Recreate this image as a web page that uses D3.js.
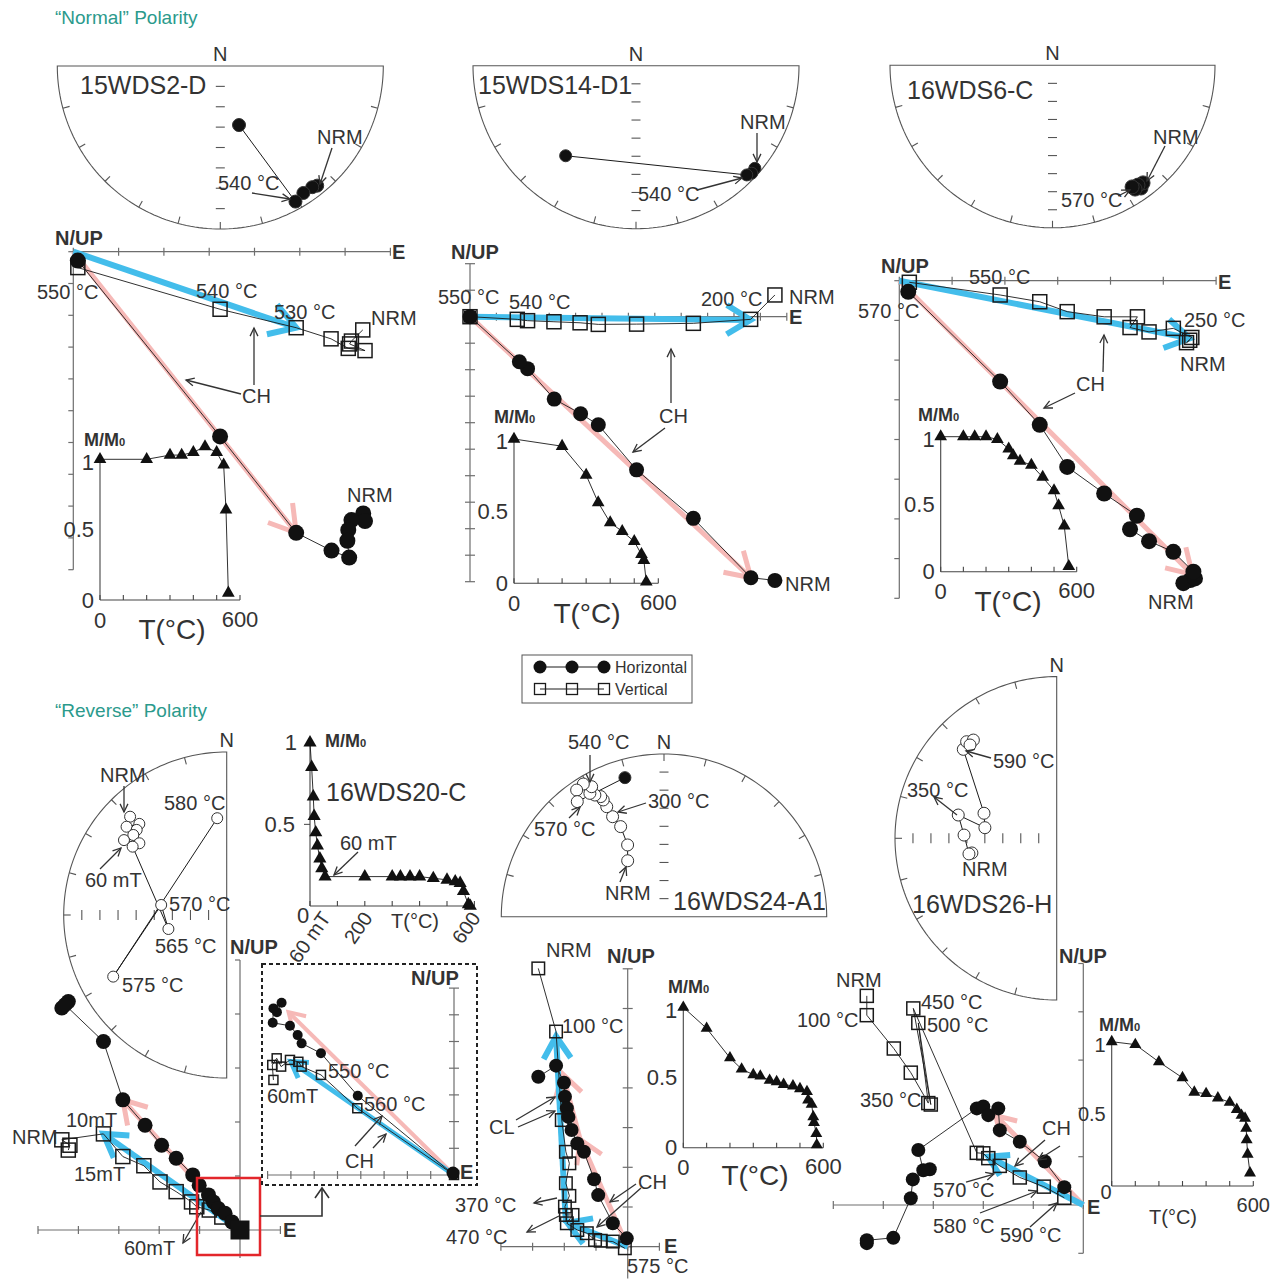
<!DOCTYPE html>
<html><head><meta charset="utf-8">
<script src="https://cdn.jsdelivr.net/npm/d3@7"></script>
<style>
body{margin:0;background:#fff}
text{font-family:"Liberation Sans",Arial,Helvetica,sans-serif;fill:#333}
</style>
</head><body><script>
// ---------------- data ----------------
// Stereonet directions: [declination, inclination]; negative inclination = upper hemisphere (open symbol)
const stereoA = [[141,5],[142.8,6],[146.8,6.2],[151,4.4],[162.4,55.8]];
const stereoB = [[130.8,3.3],[132.9,2.8],[134.6,4.1],[218,26.9]];
const stereoC = [[144.2,6.2],[142.4,7.8],[144.5,8.5],[146.3,7.6],[146.8,9.5]];
const stereoD = [[315.5,-13.9],[316.2,-20.3],[311.4,-16.3],[313.4,-21.6],[310.6,-22.1],[306.1,-19.8],[309.4,-27.6],[306,-25.8],[256.5,-56.9],[278.7,-53.4],[241.5,-18.7],[354.4,-36.3]];
const stereoE = [[327,-53.1],[333.1,-45.5],[334.3,-34.7],[332.8,-27.8],[332.5,-21.4],[332.5,-17.2],[332.2,-14.9],[330.4,-12.6],[329,-10.4],[330.9,-7.7],[328.7,-4.1],[325.4,-4.9],[323,-10.3],[344.3,10.1]];
const stereoF = [[260.2,-42.1],[259.9,-40.4],[272,-38.4],[283.3,-33.7],[278.4,-49.6],[289,-47.2],[313.6,-18.2],[317,-16.5],[319.7,-18.3],[317.1,-19.1]];

// Orthogonal vector endpoints [E, N/UP] in axis-tick units, NRM first
const horizA = [[6.40,-8.23],[6.44,-8.47],[6.14,-8.44],[6.07,-8.75],[6.05,-9.09],[6.09,-9.62],[5.70,-9.40],[4.92,-8.84],[3.24,-5.81],[0.10,-0.28]];
const vertA  = [[6.39,-2.46],[6.14,-2.81],[6.10,-2.90],[6.44,-3.11],[6.07,-3.04],[5.69,-2.74],[4.92,-2.39],[3.24,-1.81],[0.10,-0.50]];
const pinkFitsA = [[[0,0],[4.92,-8.84]]];
const blueFitsA = [[[0,0],[4.92,-2.39]]];

const horizB = [[11.55,-9.95],[10.64,-9.85],[8.46,-7.61],[6.31,-5.78],[4.86,-4.08],[4.19,-3.66],[3.19,-3.11],[2.18,-1.96],[1.87,-1.70],[0,0]];
const vertB  = [[11.55,0.82],[10.63,-0.10],[8.46,-0.25],[6.31,-0.28],[4.86,-0.29],[4.17,-0.23],[3.18,-0.19],[2.18,-0.15],[1.79,-0.10],[0,0]];
const pinkFitsB = [[[0,0],[10.64,-9.85]]];
const blueFitsB = [[[0,0],[10.63,-0.12]]];

const horizC = [[5.51,-7.54],[5.38,-7.62],[5.60,-7.50],[5.57,-7.33],[5.19,-6.83],[4.73,-6.56],[4.37,-6.26],[4.50,-5.92],[3.88,-5.36],[3.18,-4.69],[2.66,-3.63],[1.91,-2.54],[0.17,-0.28]];
const vertC  = [[5.50,-1.50],[5.44,-1.56],[5.54,-1.43],[5.19,-1.20],[4.73,-1.29],[4.37,-1.18],[4.51,-0.91],[3.88,-0.91],[3.18,-0.78],[2.66,-0.53],[1.91,-0.36],[0.19,-0.04]];
const pinkFitsC = [[[0,0],[5.55,-7.40]]];
const blueFitsC = [[[0,0],[5.50,-1.45]]];

const horizD = [[-4.41,4.11],[-4.25,4.23],[-4.33,4.17],[-3.38,3.49],[-2.90,2.41],[-2.35,1.94],[-1.94,1.57],[-1.58,1.33],[-1.17,1.02],[-1.01,0.83],[-0.78,0.65],[-0.66,0.52],[-0.54,0.40],[-0.37,0.31],[-0.20,0.15],[0,0]];
const vertD  = [[-4.25,1.48],[-4.21,1.57],[-4.41,1.67],[-3.38,1.78],[-2.90,1.36],[-2.38,1.19],[-1.98,0.89],[-1.58,0.71],[-1.20,0.52],[-1.07,0.43],[-0.76,0.37],[-0.45,0.24],[0,0]];
const pinkFitsD = [[[0,0],[-2.90,2.41]]];
const blueFitsD = [[[0,0],[-3.38,1.78]]];

// enlarged view of the high-temperature part of 16WDS20-C
const horizDz = [[-7.60,6.10],[-7.40,6.45],[-7.75,6.24],[-7.78,5.70],[-7.04,5.59],[-6.71,5.24],[-6.54,4.93],[-5.71,4.56],[-4.13,2.97],[0,0]];
const vertDz  = [[-7.75,3.56],[-7.80,4.12],[-7.61,4.37],[-7.42,4.06],[-7.04,4.31],[-6.68,4.24],[-6.54,4.06],[-5.71,3.75],[-4.15,2.50],[0,0]];
const pinkFitsDz = [[[0,0],[-7.10,6.10]]];
const blueFitsDz = [[[0,0],[-7.00,4.25]]];

const horizE = [[-2.82,4.28],[-2.26,4.56],[-2.01,4.13],[-1.98,3.78],[-1.92,3.49],[-1.87,3.27],[-1.77,2.94],[-1.59,2.60],[-1.38,2.39],[-1.06,1.70],[-0.93,1.30],[-0.47,0.59],[-0.03,0.21]];
const vertE  = [[-2.82,7.01],[-2.26,5.42],[-2.08,3.19],[-1.95,2.39],[-1.84,2.10],[-1.95,1.60],[-1.84,1.28],[-1.98,1.01],[-1.95,0.80],[-1.74,0.80],[-1.92,0.59],[-1.59,0.42],[-1.29,0.34],[-1.03,0.17],[-0.85,0.15],[-0.47,0.13],[-0.09,-0.04]];
const pinkFitsE = [[[0,0],[-1.50,2.70]],[[-1.50,2.70],[-2.05,4.35]]];
const blueFitsE = [[[0,0],[-1.90,0.60]],[[-1.95,0.60],[-2.26,5.30]]];

const horizF = [[-4.33,-0.79],[-4.33,-0.73],[-3.80,-0.68],[-3.45,0.14],[-3.41,0.53],[-3.07,0.74],[-3.20,0.72],[-3.30,1.14],[-2.13,2.00],[-2.00,2.04],[-1.90,1.86],[-1.70,2.00],[-1.67,1.55],[-1.27,1.31],[-0.77,0.90],[-0.38,0.37]];
const vertF  = [[-4.33,4.33],[-4.33,3.93],[-3.79,3.24],[-3.45,2.74],[-3.10,2.11],[-3.30,3.77],[-3.05,2.08],[-3.40,4.07],[-2.13,1.08],[-2.00,1.07],[-1.90,0.97],[-1.67,0.81],[-1.27,0.57],[-0.79,0.38],[-0.38,0.15]];
const pinkFitsF = [[[0,0],[-1.75,1.85]]];
const blueFitsF = [[[0,0],[-1.90,1.00]]];

// Normalised intensity decay: temperature (°C) and M/M0
const demagTA = [0,200,300,350,400,450,500,530,540,550];
const demagMA = [1.0,1.0,1.03,1.03,1.05,1.09,1.05,0.96,0.64,0.05];
const demagTB = [0,200,300,350,400,450,500,530,540,550];
const demagMB = [1.0,0.95,0.75,0.56,0.42,0.36,0.29,0.20,0.16,0.01];
const demagTC = [0,100,150,200,250,300,320,350,400,450,500,520,545,565];
const demagMC = [1.0,1.0,1.0,1.0,0.98,0.91,0.86,0.82,0.79,0.70,0.60,0.49,0.34,0.04];
// 16WDS20-C: AF steps up to 60 mT occupy the first stretch of the axis, then thermal steps
const demagTD = [0,6,12,15,21,27,36,43,55,200,300,330,365,400,450,500,530,548,560,578,585];
const demagMD = [1.0,0.85,0.67,0.55,0.45,0.37,0.29,0.23,0.18,0.18,0.18,0.18,0.18,0.18,0.17,0.16,0.15,0.14,0.09,0.01,0.0];
const demagTE = [0,100,200,250,300,330,370,400,430,470,500,530,535,550,557,560,570,572];
const demagME = [1.0,0.85,0.64,0.56,0.52,0.51,0.48,0.47,0.45,0.44,0.42,0.40,0.34,0.31,0.22,0.18,0.10,0.02];
const demagTF = [0,100,200,300,350,400,450,500,530,550,565,570,572,576,586];
const demagMF = [1.0,0.98,0.86,0.75,0.65,0.64,0.61,0.58,0.53,0.49,0.47,0.40,0.32,0.22,0.09];

// ---------------- drawing ----------------
const INK = '#1a1a1a', AXIS = '#6e6e6e', PINK = '#f6b9b7', BLUE = '#43bdeb', TEAL = '#2b9a8c';
const svg = d3.select('body').append('svg').attr('width', 1270).attr('height', 1284).style('display', 'block');

function label(x, y, s, o = {}) {
  const t = svg.append('text').attr('x', x).attr('y', y)
    .attr('dominant-baseline', 'central')
    .attr('text-anchor', o.anchor || 'start')
    .attr('font-size', o.size || 20)
    .text(s);
  if (o.bold) t.attr('font-weight', 'bold');
  if (o.fill) t.style('fill', o.fill);
  if (o.rotate) t.attr('transform', `rotate(${o.rotate},${x},${y})`);
  return t;
}
function mLabel(x, y, size) {
  const t = label(x, y, 'M/M', { size, bold: true });
  t.append('tspan').attr('font-size', size * 0.62).attr('dy', size * 0.12).text('0');
}
function pointer(x1, y1, x2, y2) {
  const g = svg.append('g').attr('stroke', '#333').attr('stroke-width', 1.3).attr('fill', 'none');
  g.append('line').attr('x1', x1).attr('y1', y1).attr('x2', x2).attr('y2', y2);
  const a = Math.atan2(y2 - y1, x2 - x1), h = 9, w = 0.45;
  g.append('path').attr('d', `M${x2 - h * Math.cos(a - w)},${y2 - h * Math.sin(a - w)}L${x2},${y2}L${x2 - h * Math.cos(a + w)},${y2 - h * Math.sin(a + w)}`);
}
function chevron(g, p1, p2, color, w, arm) {
  const a = Math.atan2(p1[1] - p2[1], p1[0] - p2[0]), s = 0.55;
  g.append('path')
    .attr('d', `M${p2[0] + arm * Math.cos(a + s)},${p2[1] + arm * Math.sin(a + s)}L${p2[0]},${p2[1]}L${p2[0] + arm * Math.cos(a - s)},${p2[1] + arm * Math.sin(a - s)}`)
    .attr('fill', 'none').attr('stroke', color).attr('stroke-width', w);
}

// half stereonet, radial distance linear in inclination
function stereo(L, pts) {
  const r = d3.scaleLinear().domain([90, 0]).range([0, L.R]);
  const P = (az, rad) => [L.cx + rad * Math.sin(az * Math.PI / 180), L.cy - rad * Math.cos(az * Math.PI / 180)];
  const start = { S: 90, N: -90, W: 180 }[L.half];
  const g = svg.append('g');
  const frame = g.append('g').attr('fill', 'none').attr('stroke', '#555').attr('stroke-width', 1.1);
  frame.append('path').attr('d', d3.line()(d3.range(0, 180.01, 1.5).map(k => P(start + k, L.R))) + 'Z');
  d3.range(15, 180, 15).forEach(k => {
    const a = P(start + k, L.R), b = P(start + k, L.R - 7);
    frame.append('line').attr('x1', a[0]).attr('y1', a[1]).attr('x2', b[0]).attr('y2', b[1]);
  });
  const mid = start + 90;
  d3.range(1, L.n).forEach(k => {
    const c = P(mid, L.R * k / L.n), a = (mid + 90) * Math.PI / 180, h = L.dash || 4.5;
    frame.append('line')
      .attr('x1', c[0] - h * Math.sin(a)).attr('y1', c[1] + h * Math.cos(a))
      .attr('x2', c[0] + h * Math.sin(a)).attr('y2', c[1] - h * Math.cos(a));
  });
  const xy = pts.map(d => P(d[0], r(Math.abs(d[1]))));
  g.append('path').attr('d', d3.line()(xy)).attr('fill', 'none').attr('stroke', INK).attr('stroke-width', 1);
  g.selectAll(null).data(pts).join('circle')
    .attr('cx', (d, i) => xy[i][0]).attr('cy', (d, i) => xy[i][1]).attr('r', L.pr)
    .attr('fill', d => d[1] >= 0 ? '#111' : '#fff').attr('stroke', '#333').attr('stroke-width', 1);
  const n = P(0, L.half === 'S' ? 0 : L.R);
  label(n[0], n[1] - 12, 'N', { anchor: 'middle', size: 20 });
}

// orthogonal (Zijderveld) projection
function zijder(L, horiz, vert, pinkFits, blueFits) {
  const x = d3.scaleLinear().domain([0, 1]).range([L.ox, L.ox + L.sx]);
  const y = d3.scaleLinear().domain([0, 1]).range([L.oy, L.oy - L.sy]);
  const g = svg.append('g');
  const ax = g.append('g').attr('stroke', AXIS).attr('stroke-width', 1.2);
  ax.append('line').attr('x1', x(L.xr[0])).attr('x2', x(L.xr[1])).attr('y1', y(0)).attr('y2', y(0));
  d3.range(L.xr[0], L.xr[1] + 1e-6, 1).forEach(t =>
    ax.append('line').attr('x1', x(t)).attr('x2', x(t)).attr('y1', y(0) - 4).attr('y2', y(0) + 4));
  const ya = L.yAxis || L.yr;
  ax.append('line').attr('x1', x(0)).attr('x2', x(0)).attr('y1', y(ya[0])).attr('y2', y(ya[1]));
  d3.range(L.yr[0], L.yr[1] + 1e-6, 1).forEach(t =>
    ax.append('line').attr('y1', y(t)).attr('y2', y(t))
      .attr('x1', x(0) - 5).attr('x2', x(0) + (L.vTick === 'left' ? 0 : 5)));
  const fit = (segs, color, w) => segs.forEach(s => {
    const p1 = [x(s[0][0]), y(s[0][1])], p2 = [x(s[1][0]), y(s[1][1])];
    g.append('line').attr('x1', p1[0]).attr('y1', p1[1]).attr('x2', p2[0]).attr('y2', p2[1])
      .attr('stroke', color).attr('stroke-width', w);
    chevron(g, p1, p2, color, w, L.arm);
  });
  fit(pinkFits, PINK, L.fw);
  fit(blueFits, BLUE, L.fw + 1);
  const line = d3.line().x(d => x(d[0])).y(d => y(d[1]));
  g.append('path').attr('d', line(horiz)).attr('fill', 'none').attr('stroke', INK).attr('stroke-width', 0.9);
  g.append('path').attr('d', line(vert)).attr('fill', 'none').attr('stroke', INK).attr('stroke-width', 0.9);
  g.selectAll(null).data(vert).join('rect')
    .attr('x', d => x(d[0]) - L.sq / 2).attr('y', d => y(d[1]) - L.sq / 2)
    .attr('width', L.sq).attr('height', L.sq)
    .attr('fill', 'none').attr('stroke', INK).attr('stroke-width', 1.5);
  g.selectAll(null).data(horiz).join('circle')
    .attr('cx', d => x(d[0])).attr('cy', d => y(d[1])).attr('r', L.pr).attr('fill', '#111');
  if (L.originSq) g.append('rect').attr('x', x(0) - L.originSq / 2).attr('y', y(0) - L.originSq / 2)
    .attr('width', L.originSq).attr('height', L.originSq).attr('fill', '#111');
  return { x, y };
}

// intensity decay curve
function demag(L, T, M) {
  const x = d3.scaleLinear().domain([0, 600]).range([L.ox, L.ox + L.w]);
  const y = d3.scaleLinear().domain([0, 1]).range([L.oy, L.oy - L.h]);
  const g = svg.append('g');
  const ax = g.append('g').attr('stroke', '#444').attr('stroke-width', 1.1);
  ax.append('line').attr('x1', x(0)).attr('x2', x(600)).attr('y1', y(0)).attr('y2', y(0));
  d3.range(0, 601, 100).forEach(t => ax.append('line').attr('x1', x(t)).attr('x2', x(t)).attr('y1', y(0)).attr('y2', y(0) - 5));
  ax.append('line').attr('x1', x(0)).attr('x2', x(0)).attr('y1', y(0)).attr('y2', y(1));
  const pts = T.map((t, i) => [t, M[i]]);
  g.append('path').attr('d', d3.line().x(d => x(d[0])).y(d => y(d[1]))(pts))
    .attr('fill', 'none').attr('stroke', INK).attr('stroke-width', 0.9);
  const tri = d3.symbol(d3.symbolTriangle, L.tri || 70);
  g.selectAll(null).data(pts).join('path').attr('d', tri)
    .attr('transform', d => `translate(${x(d[0])},${y(d[1])})`).attr('fill', '#111');
  const fs = L.fs || 22;
  if (!L.custom) {
    label(x(0) - 6, y(1) + (L.oneDy || 0), '1', { anchor: 'end', size: fs });
    label(x(0) - 6, y(0.5), '0.5', { anchor: 'end', size: fs });
    if (L.singleZero) label(L.singleZero[0], L.singleZero[1], '0', { anchor: 'middle', size: fs });
    else {
      label(x(0) - 6, y(0), '0', { anchor: 'end', size: fs });
      label(x(0), y(0) + 20, '0', { anchor: 'middle', size: fs });
    }
    label(x(600), y(0) + 19, '600', { anchor: 'middle', size: fs });
    label(L.tLab[0], L.tLab[1], 'T(°C)', { anchor: 'middle', size: L.tSize || 28 });
    mLabel(L.mLab[0], L.mLab[1], 18);
  }
  return { x, y };
}

// ---------------- layout ----------------
label(55, 17, '\u201cNormal\u201d Polarity', { size: 19, fill: TEAL });
label(55, 710, '\u201cReverse\u201d Polarity', { size: 19, fill: TEAL });

// ---- 15WDS2-D ----
stereo({ cx: 220.3, cy: 66, R: 163, half: 'S', n: 8, pr: 6.5 }, stereoA);
label(80, 85, '15WDS2-D', { size: 25 });
label(317, 137, 'NRM'); pointer(332, 148, 320, 184);
label(218, 183, '540 °C'); pointer(252, 193, 290, 199);
zijder({ ox: 73.3, oy: 251.7, sx: 45.3, sy: 31.8, xr: [0, 7], yr: [-10, 0], vTick: 'left', pr: 8, sq: 14, fw: 5, arm: 30 },
  horizA, vertA, pinkFitsA, blueFitsA);
label(55, 238, 'N/UP', { bold: true }); label(392, 252, 'E', { bold: true });
label(37, 292, '550 °C'); label(196, 291, '540 °C'); label(274, 312, '530 °C');
label(371, 318, 'NRM'); label(347, 495, 'NRM'); label(242, 396, 'CH');
pointer(241, 394, 186, 380); pointer(254, 385, 254, 328);
demag({ ox: 100, oy: 600, w: 140, h: 140.7, oneDy: 3, tLab: [172, 629], mLab: [84, 440] }, demagTA, demagMA);

// ---- 15WDS14-D1 ----
stereo({ cx: 636, cy: 65.7, R: 163, half: 'S', n: 9, pr: 6 }, stereoB);
label(478, 85, '15WDS14-D1', { size: 25 });
label(740, 122, 'NRM'); pointer(757, 133, 757, 162);
label(638, 194, '540 °C'); pointer(697, 190, 742, 178);
zijder({ ox: 470, oy: 316.7, sx: 26.4, sy: 26.5, xr: [0, 12], yr: [-10, 2], vTick: 'both', pr: 7.5, sq: 14, fw: 5, arm: 28, originSq: 12 },
  horizB, vertB, pinkFitsB, blueFitsB);
label(451, 252, 'N/UP', { bold: true }); label(789, 317, 'E', { bold: true });
label(438, 297, '550 °C'); label(509, 302, '540 °C'); label(701, 299, '200 °C');
label(789, 297, 'NRM'); label(785, 584, 'NRM'); label(659, 416, 'CH');
pointer(671, 403, 671, 349); pointer(665, 428, 633, 452);
demag({ ox: 514, oy: 583.3, w: 144.3, h: 144.3, oneDy: 2, tLab: [587, 613], mLab: [494, 417] }, demagTB, demagMB);

// ---- 16WDS6-C ----
stereo({ cx: 1052.5, cy: 65.3, R: 162.5, half: 'S', n: 9, pr: 7 }, stereoC);
label(907, 90, '16WDS6-C', { size: 25 });
label(1153, 137, 'NRM'); pointer(1165, 146, 1147, 181);
label(1061, 200, '570 °C'); pointer(1118, 196, 1130, 190);
zijder({ ox: 899.3, oy: 280.7, sx: 52.8, sy: 39.7, xr: [0, 6], yr: [-8, 0], vTick: 'left', pr: 8, sq: 14, fw: 5, arm: 28 },
  horizC, vertC, pinkFitsC, blueFitsC);
label(881, 266, 'N/UP', { bold: true }); label(1218, 282, 'E', { bold: true });
label(969, 277, '550 °C'); label(858, 311, '570 °C'); label(1184, 320, '250 °C');
label(1180, 364, 'NRM'); label(1148, 602, 'NRM'); label(1076, 384, 'CH');
pointer(1103, 372, 1104, 335); pointer(1075, 393, 1044, 408);
demag({ ox: 940.7, oy: 571.7, w: 136, h: 135, oneDy: 3, tLab: [1008, 601], mLab: [918, 415] }, demagTC, demagMC);

// ---- legend ----
svg.append('rect').attr('x', 522).attr('y', 655).attr('width', 170).attr('height', 48)
  .attr('fill', 'none').attr('stroke', '#555').attr('stroke-width', 1);
const legX = [540, 572, 604];
svg.append('line').attr('x1', 540).attr('x2', 604).attr('y1', 667).attr('y2', 667).attr('stroke', INK);
svg.append('line').attr('x1', 540).attr('x2', 604).attr('y1', 689).attr('y2', 689).attr('stroke', INK);
legX.forEach(v => {
  svg.append('circle').attr('cx', v).attr('cy', 667).attr('r', 6.5).attr('fill', '#111');
  svg.append('rect').attr('x', v - 5.5).attr('y', 683.5).attr('width', 11).attr('height', 11)
    .attr('fill', 'none').attr('stroke', INK).attr('stroke-width', 1.3);
});
label(615, 667, 'Horizontal', { size: 16 });
label(615, 689, 'Vertical', { size: 16 });

// ---- 16WDS20-C ----
stereo({ cx: 226.7, cy: 915, R: 163, half: 'W', n: 9, pr: 5.5, dash: 5 }, stereoD);
label(100, 775, 'NRM'); pointer(124, 786, 124, 812);
label(85, 880, '60 mT'); pointer(100, 869, 121, 848);
label(164, 803, '580 °C'); label(169, 904, '570 °C'); label(155, 946, '565 °C'); label(122, 985, '575 °C');
const dD = demag({ ox: 310, oy: 906, w: 164.4, h: 163.3, tri: 75, custom: true }, demagTD, demagMD);
svg.append('line').attr('x1', 304).attr('x2', 310).attr('y1', dD.y(0.5)).attr('y2', dD.y(0.5)).attr('stroke', '#444');
label(297, dD.y(1), '1', { anchor: 'end', size: 22 });
label(295, dD.y(0.5), '0.5', { anchor: 'end', size: 22 });
label(303, 915, '0', { anchor: 'middle', size: 22 });
mLabel(325, 741, 18);
label(326, 792, '16WDS20-C', { size: 25 });
label(340, 843, '60 mT'); pointer(358, 852, 334, 875);
label(dD.x(58), 914, '60 mT', { anchor: 'end', size: 20, rotate: -55 });
label(dD.x(210), 914, '200', { anchor: 'end', size: 20, rotate: -55 });
label(dD.x(605), 914, '600', { anchor: 'end', size: 20, rotate: -55 });
label(415, 921, 'T(°C)', { anchor: 'middle', size: 20 });

zijder({ ox: 240, oy: 1230, sx: 40.4, sy: 54, xr: [-5, 1], yr: [0, 5], yAxis: [-0.52, 5], vTick: 'left', pr: 7.5, sq: 14, fw: 5, arm: 26, originSq: 19 },
  horizD, vertD, pinkFitsD, blueFitsD);
label(230, 947, 'N/UP', { bold: true }); label(283, 1230, 'E', { bold: true });
label(12, 1137, 'NRM'); label(66, 1120, '10mT'); label(74, 1174, '15mT'); label(124, 1248, '60mT');
pointer(201, 1212, 183, 1243);
svg.append('rect').attr('x', 197).attr('y', 1178).attr('width', 63).attr('height', 77)
  .attr('fill', 'none').attr('stroke', '#e3262b').attr('stroke-width', 2.5);
svg.append('path').attr('d', 'M260,1216L322,1216L322,1188').attr('fill', 'none').attr('stroke', '#333').attr('stroke-width', 1.6);
svg.append('path').attr('d', 'M315,1198L322,1188L329,1198').attr('fill', 'none').attr('stroke', '#333').attr('stroke-width', 1.6);
svg.append('rect').attr('x', 262).attr('y', 964).attr('width', 215).attr('height', 221)
  .attr('fill', 'none').attr('stroke', '#222').attr('stroke-width', 2).attr('stroke-dasharray', '4,3');
zijder({ ox: 454, oy: 1175, sx: 23.3, sy: 26.7, xr: [-8, 0], yr: [0, 7], vTick: 'both', pr: 5, sq: 9, fw: 4, arm: 18 },
  horizDz, vertDz, pinkFitsDz, blueFitsDz);
svg.append('circle').attr('cx', 453).attr('cy', 1173).attr('r', 6.5).attr('fill', '#111');
label(411, 978, 'N/UP', { bold: true }); label(460, 1172, 'E', { bold: true });
label(328, 1071, '550 °C'); label(364, 1104, '560 °C'); label(267, 1096, '60mT'); label(345, 1161, 'CH');
pointer(355, 1146, 382, 1116); pointer(373, 1148, 386, 1134);

// ---- 16WDS24-A1 ----
stereo({ cx: 664, cy: 916.7, R: 162.7, half: 'N', n: 9, pr: 6 }, stereoE);
label(568, 742, '540 °C'); pointer(590, 755, 590, 782);
label(648, 801, '300 °C'); pointer(646, 803, 618, 812);
label(534, 829, '570 °C'); pointer(569, 818, 580, 807);
label(605, 893, 'NRM'); pointer(620, 882, 626, 867);
label(673, 901, '16WDS24-A1', { size: 25 });
zijder({ ox: 627.7, oy: 1246.7, sx: 31.7, sy: 39.7, xr: [-4, 1], yr: [0, 7], yAxis: [-0.8, 7], vTick: 'both', pr: 7, sq: 12.5, fw: 5, arm: 26 },
  horizE, vertE, pinkFitsE, blueFitsE);
label(607, 956, 'N/UP', { bold: true }); label(664, 1246, 'E', { bold: true });
label(546, 950, 'NRM'); label(562, 1026, '100 °C');
label(489, 1127, 'CL'); pointer(516, 1120, 555, 1097); pointer(518, 1127, 555, 1111);
label(455, 1205, '370 °C'); pointer(557, 1198, 534, 1203);
label(446, 1237, '470 °C'); pointer(559, 1216, 527, 1232);
label(638, 1182, 'CH'); pointer(636, 1184, 610, 1202); pointer(641, 1188, 597, 1227);
label(627, 1266, '575 °C');
demag({ ox: 683.3, oy: 1147.7, w: 140, h: 140.4, tri: 62, oneDy: 3, tLab: [755, 1175], mLab: [668, 987] }, demagTE, demagME);

// ---- 16WDS26-H ----
stereo({ cx: 1056.7, cy: 838.3, R: 161.7, half: 'W', n: 9, pr: 6, dash: 5 }, stereoF);
label(993, 761, '590 °C'); pointer(991, 758, 966, 751);
label(907, 790, '350 °C'); pointer(957, 815, 934, 797);
label(962, 869, 'NRM');
label(912, 904, '16WDS26-H', { size: 25 });
zijder({ ox: 1083.3, oy: 1205, sx: 50, sy: 48.3, xr: [-5, 0], yr: [-1, 5], vTick: 'left', pr: 7, sq: 13, fw: 5, arm: 22 },
  horizF, vertF, pinkFitsF, blueFitsF);
label(1059, 956, 'N/UP', { bold: true }); label(1087, 1207, 'E', { bold: true });
label(836, 980, 'NRM'); label(797, 1020, '100 °C'); label(921, 1002, '450 °C'); label(927, 1025, '500 °C');
label(860, 1100, '350 °C');
label(1042, 1128, 'CH'); pointer(1045, 1140, 1015, 1166); pointer(1060, 1146, 1038, 1160);
label(933, 1190, '570 °C'); pointer(966, 1182, 994, 1174);
label(933, 1226, '580 °C'); pointer(980, 1213, 1037, 1191);
label(1000, 1235, '590 °C'); pointer(1030, 1227, 1057, 1203);
demag({ ox: 1111.7, oy: 1186, w: 141.6, h: 144.3, tri: 62, fs: 20, tSize: 20, oneDy: 3, singleZero: [1106, 1192], tLab: [1173, 1217], mLab: [1099, 1025] }, demagTF, demagMF);
</script></body></html>
